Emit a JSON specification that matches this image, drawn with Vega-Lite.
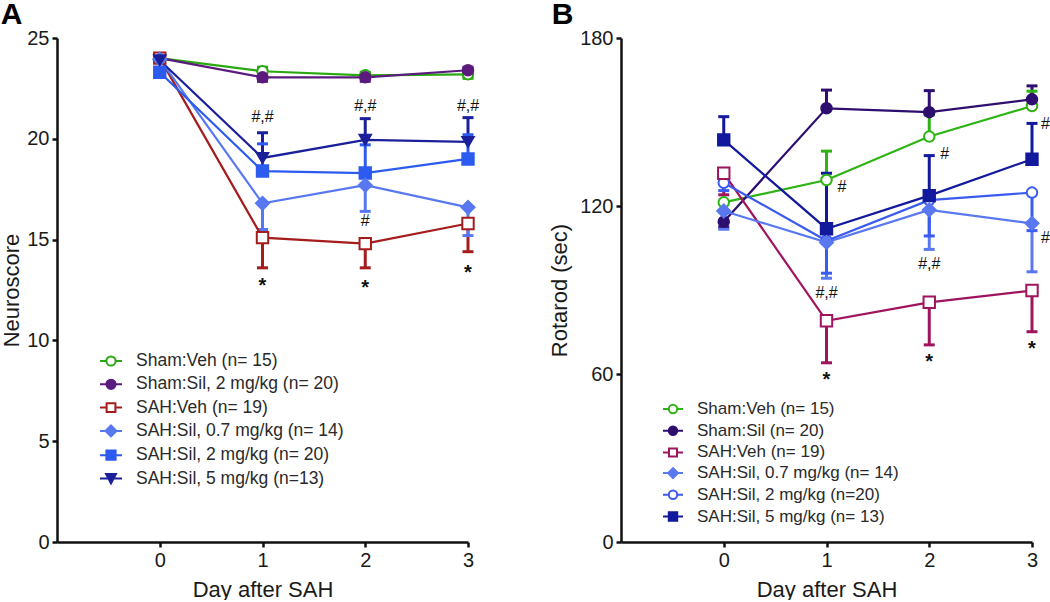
{
  "$schema": "https://vega.github.io/schema/vega-lite/v6.json",
  "padding": {"left": 0, "top": 0, "right": 0, "bottom": 0},
  "background": "white",
  "datasets": {
    "A": [
      {"g": "Sham:Veh (n= 15)", "day": 0, "v": 24.0, "err": null},
      {"g": "Sham:Veh (n= 15)", "day": 1, "v": 23.35, "err": 23.55},
      {"g": "Sham:Veh (n= 15)", "day": 2, "v": 23.15, "err": 23.3},
      {"g": "Sham:Veh (n= 15)", "day": 3, "v": 23.2, "err": 23.0},
      {"g": "Sham:Sil, 2 mg/kg (n= 20)", "day": 0, "v": 24.0, "err": null},
      {"g": "Sham:Sil, 2 mg/kg (n= 20)", "day": 1, "v": 23.05, "err": 22.85},
      {"g": "Sham:Sil, 2 mg/kg (n= 20)", "day": 2, "v": 23.05, "err": 22.85},
      {"g": "Sham:Sil, 2 mg/kg (n= 20)", "day": 3, "v": 23.4, "err": 23.55},
      {"g": "SAH:Veh (n= 19)", "day": 0, "v": 24.0, "err": null},
      {"g": "SAH:Veh (n= 19)", "day": 1, "v": 15.1, "err": 13.6},
      {"g": "SAH:Veh (n= 19)", "day": 2, "v": 14.8, "err": 13.6},
      {"g": "SAH:Veh (n= 19)", "day": 3, "v": 15.8, "err": 14.4},
      {"g": "SAH:Sil, 0.7 mg/kg (n= 14)", "day": 0, "v": 23.95, "err": null},
      {"g": "SAH:Sil, 0.7 mg/kg (n= 14)", "day": 1, "v": 16.8, "err": 15.5},
      {"g": "SAH:Sil, 0.7 mg/kg (n= 14)", "day": 2, "v": 17.7, "err": 16.4},
      {"g": "SAH:Sil, 0.7 mg/kg (n= 14)", "day": 3, "v": 16.6, "err": 15.2},
      {"g": "SAH:Sil, 2 mg/kg (n= 20)", "day": 0, "v": 23.3, "err": null},
      {"g": "SAH:Sil, 2 mg/kg (n= 20)", "day": 1, "v": 18.4, "err": 19.75},
      {"g": "SAH:Sil, 2 mg/kg (n= 20)", "day": 2, "v": 18.3, "err": 19.7},
      {"g": "SAH:Sil, 2 mg/kg (n= 20)", "day": 3, "v": 19.0, "err": 20.2},
      {"g": "SAH:Sil, 5 mg/kg (n=13)", "day": 0, "v": 23.9, "err": null},
      {"g": "SAH:Sil, 5 mg/kg (n=13)", "day": 1, "v": 19.05, "err": 20.3},
      {"g": "SAH:Sil, 5 mg/kg (n=13)", "day": 2, "v": 19.95, "err": 21.0},
      {"g": "SAH:Sil, 5 mg/kg (n=13)", "day": 3, "v": 19.85, "err": 21.05}
    ],
    "B": [
      {"g": "Sham:Veh (n= 15)", "day": 0, "v": 121.3, "err": null},
      {"g": "Sham:Veh (n= 15)", "day": 1, "v": 129.3, "err": 139.6},
      {"g": "Sham:Veh (n= 15)", "day": 2, "v": 144.8, "err": 152.5},
      {"g": "Sham:Veh (n= 15)", "day": 3, "v": 155.7, "err": 161.0},
      {"g": "Sham:Sil (n= 20)", "day": 0, "v": 114.4, "err": 112.5},
      {"g": "Sham:Sil (n= 20)", "day": 1, "v": 154.9, "err": 161.4},
      {"g": "Sham:Sil (n= 20)", "day": 2, "v": 153.5, "err": 161.2},
      {"g": "Sham:Sil (n= 20)", "day": 3, "v": 158.1, "err": 162.9},
      {"g": "SAH:Veh (n= 19)", "day": 0, "v": 131.7, "err": 124.0},
      {"g": "SAH:Veh (n= 19)", "day": 1, "v": 79.0, "err": 64.0},
      {"g": "SAH:Veh (n= 19)", "day": 2, "v": 85.6, "err": 70.4},
      {"g": "SAH:Veh (n= 19)", "day": 3, "v": 89.8, "err": 75.1},
      {"g": "SAH:Sil, 0.7 mg/kg (n= 14)", "day": 0, "v": 118.2, "err": 111.7},
      {"g": "SAH:Sil, 0.7 mg/kg (n= 14)", "day": 1, "v": 107.0, "err": 94.2},
      {"g": "SAH:Sil, 0.7 mg/kg (n= 14)", "day": 2, "v": 118.6, "err": 104.5},
      {"g": "SAH:Sil, 0.7 mg/kg (n= 14)", "day": 3, "v": 113.8, "err": 96.5},
      {"g": "SAH:Sil, 2 mg/kg (n=20)", "day": 0, "v": 128.3, "err": 125.5},
      {"g": "SAH:Sil, 2 mg/kg (n=20)", "day": 1, "v": 107.6, "err": 96.0},
      {"g": "SAH:Sil, 2 mg/kg (n=20)", "day": 2, "v": 122.1, "err": 109.3},
      {"g": "SAH:Sil, 2 mg/kg (n=20)", "day": 3, "v": 124.8, "err": 111.2},
      {"g": "SAH:Sil, 5 mg/kg (n= 13)", "day": 0, "v": 143.6, "err": 151.9},
      {"g": "SAH:Sil, 5 mg/kg (n= 13)", "day": 1, "v": 111.9, "err": 131.7},
      {"g": "SAH:Sil, 5 mg/kg (n= 13)", "day": 2, "v": 123.7, "err": 138.0},
      {"g": "SAH:Sil, 5 mg/kg (n= 13)", "day": 3, "v": 136.7, "err": 149.5}
    ],
    "annA": [
      {"day": 1, "v": 21.1, "t": "#,#"},
      {"day": 2, "v": 21.63, "t": "#,#"},
      {"day": 3, "v": 21.63, "t": "#,#"},
      {"day": 2, "v": 15.94, "t": "#"},
      {"day": 1, "v": 12.7, "t": "*"},
      {"day": 2, "v": 12.6, "t": "*"},
      {"day": 3, "v": 13.35, "t": "*"}
    ],
    "annB": [
      {"day": 1.15, "v": 126.9, "t": "#"},
      {"day": 2.15, "v": 138.6, "t": "#"},
      {"day": 3.13, "v": 149.3, "t": "#"},
      {"day": 3.13, "v": 108.7, "t": "#"},
      {"day": 2, "v": 99.2, "t": "#,#"},
      {"day": 1, "v": 88.8, "t": "#,#"},
      {"day": 1, "v": 57.8, "t": "*"},
      {"day": 2, "v": 64.4, "t": "*"},
      {"day": 3, "v": 68.9, "t": "*"}
    ]
  },
  "spacing": 153,
  "bounds": "flush",
  "hconcat": [
    {
      "width": 411,
      "height": 504,
      "title": {"text": "A", "anchor": "start", "frame": "bounds", "fontSize": 30, "fontWeight": "bold", "font": "Liberation Sans", "color": "#000000", "offset": -2, "dx": 0},
      "data": {"name": "A"},
      "encoding": {
        "x": {"field": "day", "type": "quantitative", "title": "Day after SAH", "scale": {"domain": [-1, 3], "nice": false, "zero": false}, "axis": {"values": [0, 1, 2, 3], "labelFlush": false, "titlePadding": 9}},
        "y": {"field": "v", "type": "quantitative", "title": "Neuroscore", "scale": {"domain": [0, 25], "nice": false}, "axis": {"values": [0, 5, 10, 15, 20, 25], "titlePadding": 3}}
      },
      "layer": [
        {
          "data": {"values": []},
          "mark": {"type": "point", "opacity": 1, "filled": true, "strokeWidth": 2},
          "encoding": {
            "shape": {"field": "g", "type": "nominal",
              "scale": {"domain": ["Sham:Veh (n= 15)", "Sham:Sil, 2 mg/kg (n= 20)", "SAH:Veh (n= 19)", "SAH:Sil, 0.7 mg/kg (n= 14)", "SAH:Sil, 2 mg/kg (n= 20)", "SAH:Sil, 5 mg/kg (n=13)"],
                "range": ["M-1,0H-0.42M0.42,0H1M-0.42,0A0.42,0.42,0,1,0,0.42,0A0.42,0.42,0,1,0,-0.42,0Z", "M-1,0H-0.42M0.42,0H1M-0.42,0A0.42,0.42,0,1,0,0.42,0A0.42,0.42,0,1,0,-0.42,0Z", "M-1,0H-0.4M0.4,0H1M-0.4,-0.4H0.4V0.4H-0.4Z", "M-1,0H-0.5M0.5,0H1M-0.5,0L0,-0.5L0.5,0L0,0.5Z", "M-1,0H-0.42M0.42,0H1M-0.42,-0.42H0.42V0.42H-0.42Z", "M-1,0H-0.24M0.24,0H1M-0.45,-0.4L0.45,-0.4L0,0.45Z"]},
              "legend": {"title": null, "orient": "none", "legendX": 42, "legendY": 311, "symbolSize": 484, "rowPadding": 2.3, "labelFontSize": 17.5}},
            "stroke": {"field": "g", "type": "nominal",
              "scale": {"domain": ["Sham:Veh (n= 15)", "Sham:Sil, 2 mg/kg (n= 20)", "SAH:Veh (n= 19)", "SAH:Sil, 0.7 mg/kg (n= 14)", "SAH:Sil, 2 mg/kg (n= 20)", "SAH:Sil, 5 mg/kg (n=13)"],
                "range": ["#2aa810", "#5b1a7e", "#a51c1c", "#5878f2", "#2c5bef", "#1b1f9a"]},
              "legend": {"title": null, "orient": "none", "legendX": 42, "legendY": 311, "symbolSize": 484, "rowPadding": 2.3, "labelFontSize": 17.5}},
            "fill": {"field": "g", "type": "nominal",
              "scale": {"domain": ["Sham:Veh (n= 15)", "Sham:Sil, 2 mg/kg (n= 20)", "SAH:Veh (n= 19)", "SAH:Sil, 0.7 mg/kg (n= 14)", "SAH:Sil, 2 mg/kg (n= 20)", "SAH:Sil, 5 mg/kg (n=13)"],
                "range": ["#ffffff", "#5b1a7e", "#ffffff", "#5878f2", "#2c5bef", "#1b1f9a"]},
              "legend": {"title": null, "orient": "none", "legendX": 42, "legendY": 311, "symbolSize": 484, "rowPadding": 2.3, "labelFontSize": 17.5}}
          }
        },
        {
          "transform": [{"filter": "datum.err != null"}],
          "mark": {"type": "rule", "strokeWidth": 3},
          "encoding": {
            "y2": {"field": "err"},
            "stroke": {"field": "g", "type": "nominal"}
          }
        },
        {
          "transform": [{"filter": "datum.err != null"}],
          "mark": {"type": "point", "shape": "stroke", "size": 121, "strokeWidth": 3, "opacity": 1, "filled": false},
          "encoding": {
            "y": {"field": "err", "type": "quantitative", "title": "Neuroscore"},
            "stroke": {"field": "g", "type": "nominal"}
          }
        },
        {
          "mark": {"type": "line", "strokeWidth": 2.2},
          "encoding": {
            "stroke": {"field": "g", "type": "nominal"}
          }
        },
        {
          "transform": [{"filter": {"field": "g", "oneOf": ["Sham:Veh (n= 15)", "Sham:Sil, 2 mg/kg (n= 20)"]}}],
          "mark": {"type": "point", "shape": "circle", "size": 110, "strokeWidth": 2, "opacity": 1, "filled": true},
          "encoding": {
            "stroke": {"field": "g", "type": "nominal"},
            "fill": {"field": "g", "type": "nominal"}
          }
        },
        {
          "transform": [{"filter": {"field": "g", "oneOf": ["SAH:Veh (n= 19)", "SAH:Sil, 2 mg/kg (n= 20)"]}}],
          "mark": {"type": "point", "shape": "square", "size": 130, "strokeWidth": 2, "opacity": 1, "filled": true},
          "encoding": {
            "stroke": {"field": "g", "type": "nominal"},
            "fill": {"field": "g", "type": "nominal"}
          }
        },
        {
          "transform": [{"filter": {"field": "g", "oneOf": ["SAH:Sil, 0.7 mg/kg (n= 14)"]}}],
          "mark": {"type": "point", "shape": "diamond", "size": 170, "strokeWidth": 2, "opacity": 1, "filled": true},
          "encoding": {
            "stroke": {"field": "g", "type": "nominal"},
            "fill": {"field": "g", "type": "nominal"}
          }
        },
        {
          "transform": [{"filter": {"field": "g", "oneOf": ["SAH:Sil, 5 mg/kg (n=13)"]}}],
          "mark": {"type": "point", "shape": "triangle-down", "size": 130, "strokeWidth": 2, "opacity": 1, "filled": true},
          "encoding": {
            "stroke": {"field": "g", "type": "nominal"},
            "fill": {"field": "g", "type": "nominal"}
          }
        },
        {
          "data": {"name": "annA"},
          "transform": [{"filter": "datum.t != '*'"}],
          "mark": {"type": "text", "fontSize": 16, "font": "Liberation Sans", "color": "#111111", "baseline": "middle", "align": "center"},
          "encoding": {"text": {"field": "t"}}
        },
        {
          "data": {"name": "annA"},
          "transform": [{"filter": "datum.t == '*'"}],
          "mark": {"type": "text", "fontSize": 20, "fontWeight": "bold", "font": "Liberation Sans", "color": "#111111", "baseline": "middle", "align": "center"},
          "encoding": {"text": {"field": "t"}}
        }
      ]
    },
    {
      "width": 411,
      "height": 504,
      "title": {"text": "B", "anchor": "start", "frame": "bounds", "fontSize": 30, "fontWeight": "bold", "font": "Liberation Sans", "color": "#000000", "offset": -2, "dx": 3},
      "data": {"name": "B"},
      "encoding": {
        "x": {"field": "day", "type": "quantitative", "title": "Day after SAH", "scale": {"domain": [-1, 3], "nice": false, "zero": false}, "axis": {"values": [0, 1, 2, 3], "labelFlush": false, "titlePadding": 9}},
        "y": {"field": "v", "type": "quantitative", "title": "Rotarod (sec)", "scale": {"domain": [0, 180], "nice": false}, "axis": {"values": [0, 60, 120, 180], "titlePadding": 8}}
      },
      "layer": [
        {
          "data": {"values": []},
          "mark": {"type": "point", "opacity": 1, "filled": true, "strokeWidth": 2},
          "encoding": {
            "shape": {"field": "g", "type": "nominal",
              "scale": {"domain": ["Sham:Veh (n= 15)", "Sham:Sil (n= 20)", "SAH:Veh (n= 19)", "SAH:Sil, 0.7 mg/kg (n= 14)", "SAH:Sil, 2 mg/kg (n=20)", "SAH:Sil, 5 mg/kg (n= 13)"],
                "range": ["M-1,0H-0.42M0.42,0H1M-0.42,0A0.42,0.42,0,1,0,0.42,0A0.42,0.42,0,1,0,-0.42,0Z", "M-1,0H-0.42M0.42,0H1M-0.42,0A0.42,0.42,0,1,0,0.42,0A0.42,0.42,0,1,0,-0.42,0Z", "M-1,0H-0.4M0.4,0H1M-0.4,-0.4H0.4V0.4H-0.4Z", "M-1,0H-0.5M0.5,0H1M-0.5,0L0,-0.5L0.5,0L0,0.5Z", "M-1,0H-0.42M0.42,0H1M-0.42,0A0.42,0.42,0,1,0,0.42,0A0.42,0.42,0,1,0,-0.42,0Z", "M-1,0H-0.42M0.42,0H1M-0.42,-0.42H0.42V0.42H-0.42Z"]},
              "legend": {"title": null, "orient": "none", "legendX": 41, "legendY": 360, "symbolSize": 400, "rowPadding": 1.7, "labelFontSize": 17}},
            "stroke": {"field": "g", "type": "nominal",
              "scale": {"domain": ["Sham:Veh (n= 15)", "Sham:Sil (n= 20)", "SAH:Veh (n= 19)", "SAH:Sil, 0.7 mg/kg (n= 14)", "SAH:Sil, 2 mg/kg (n=20)", "SAH:Sil, 5 mg/kg (n= 13)"],
                "range": ["#2db312", "#2e0e6e", "#a0145e", "#5a78f0", "#3a5af0", "#12199c"]},
              "legend": {"title": null, "orient": "none", "legendX": 41, "legendY": 360, "symbolSize": 400, "rowPadding": 1.7, "labelFontSize": 17}},
            "fill": {"field": "g", "type": "nominal",
              "scale": {"domain": ["Sham:Veh (n= 15)", "Sham:Sil (n= 20)", "SAH:Veh (n= 19)", "SAH:Sil, 0.7 mg/kg (n= 14)", "SAH:Sil, 2 mg/kg (n=20)", "SAH:Sil, 5 mg/kg (n= 13)"],
                "range": ["#ffffff", "#2e0e6e", "#ffffff", "#5a78f0", "#ffffff", "#12199c"]},
              "legend": {"title": null, "orient": "none", "legendX": 41, "legendY": 360, "symbolSize": 400, "rowPadding": 1.7, "labelFontSize": 17}}
          }
        },
        {
          "transform": [{"filter": "datum.err != null"}],
          "mark": {"type": "rule", "strokeWidth": 3},
          "encoding": {
            "y2": {"field": "err"},
            "stroke": {"field": "g", "type": "nominal"}
          }
        },
        {
          "transform": [{"filter": "datum.err != null"}],
          "mark": {"type": "point", "shape": "stroke", "size": 121, "strokeWidth": 3, "opacity": 1, "filled": false},
          "encoding": {
            "y": {"field": "err", "type": "quantitative", "title": "Rotarod (sec)"},
            "stroke": {"field": "g", "type": "nominal"}
          }
        },
        {
          "mark": {"type": "line", "strokeWidth": 2.2},
          "encoding": {
            "stroke": {"field": "g", "type": "nominal"}
          }
        },
        {
          "transform": [{"filter": {"field": "g", "oneOf": ["Sham:Veh (n= 15)", "Sham:Sil (n= 20)", "SAH:Sil, 2 mg/kg (n=20)"]}}],
          "mark": {"type": "point", "shape": "circle", "size": 110, "strokeWidth": 2, "opacity": 1, "filled": true},
          "encoding": {
            "stroke": {"field": "g", "type": "nominal"},
            "fill": {"field": "g", "type": "nominal"}
          }
        },
        {
          "transform": [{"filter": {"field": "g", "oneOf": ["SAH:Veh (n= 19)", "SAH:Sil, 5 mg/kg (n= 13)"]}}],
          "mark": {"type": "point", "shape": "square", "size": 130, "strokeWidth": 2, "opacity": 1, "filled": true},
          "encoding": {
            "stroke": {"field": "g", "type": "nominal"},
            "fill": {"field": "g", "type": "nominal"}
          }
        },
        {
          "transform": [{"filter": {"field": "g", "oneOf": ["SAH:Sil, 0.7 mg/kg (n= 14)"]}}],
          "mark": {"type": "point", "shape": "diamond", "size": 170, "strokeWidth": 2, "opacity": 1, "filled": true},
          "encoding": {
            "stroke": {"field": "g", "type": "nominal"},
            "fill": {"field": "g", "type": "nominal"}
          }
        },
        {
          "data": {"name": "annB"},
          "transform": [{"filter": "datum.t != '*'"}],
          "mark": {"type": "text", "fontSize": 16, "font": "Liberation Sans", "color": "#111111", "baseline": "middle", "align": "center"},
          "encoding": {"text": {"field": "t"}}
        },
        {
          "data": {"name": "annB"},
          "transform": [{"filter": "datum.t == '*'"}],
          "mark": {"type": "text", "fontSize": 20, "fontWeight": "bold", "font": "Liberation Sans", "color": "#111111", "baseline": "middle", "align": "center"},
          "encoding": {"text": {"field": "t"}}
        }
      ]
    }
  ],
  "resolve": {
    "scale": {"x": "independent", "y": "independent", "stroke": "independent", "fill": "independent", "shape": "independent"},
    "legend": {"stroke": "independent", "fill": "independent", "shape": "independent"}
  },
  "config": {
    "font": "Liberation Sans",
    "view": {"stroke": null},
    "axis": {"domainColor": "#111111", "domainWidth": 2.5, "tickColor": "#111111", "tickWidth": 2.5, "tickSize": 5, "labelFontSize": 20, "labelColor": "#1a1a1a", "labelPadding": 3, "titleFontSize": 22, "titleFontWeight": "normal", "titleColor": "#1a1a1a", "grid": false, "labelFont": "Liberation Sans", "titleFont": "Liberation Sans"},
    "legend": {"labelColor": "#2a2a2a", "labelLimit": 400, "symbolStrokeWidth": 2, "symbolOpacity": 1, "labelOffset": 13, "labelFont": "Liberation Sans"}
  }
}
